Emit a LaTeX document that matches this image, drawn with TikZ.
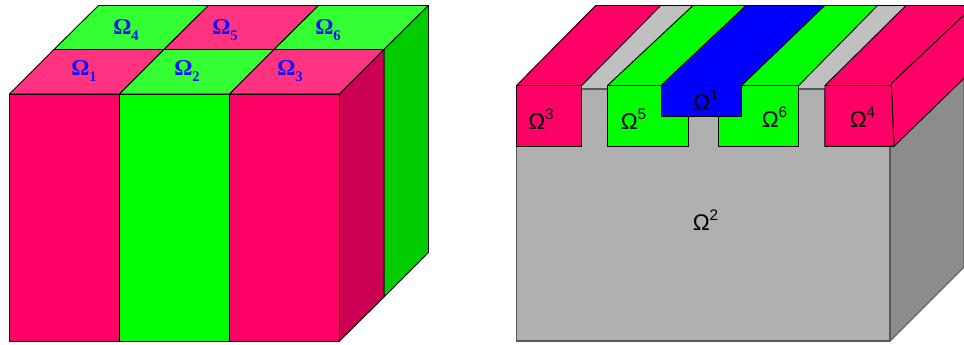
\documentclass[tikz,border=0pt]{standalone}
\usepackage{fontspec}
\setmainfont{Liberation Serif}
\setsansfont{Liberation Sans}
\definecolor{pinkF}{HTML}{FF0066}
\definecolor{pinkT}{HTML}{FF3380}
\definecolor{pinkS}{HTML}{CC0052}
\definecolor{greenF}{HTML}{00FF00}
\definecolor{greenT}{HTML}{33FF33}
\definecolor{greenS}{HTML}{00CC00}
\definecolor{grayF}{HTML}{B0B0B0}
\definecolor{grayT}{HTML}{C0C0C0}
\definecolor{grayS}{HTML}{8C8C8C}
\definecolor{blueL}{HTML}{1010FF}
\tikzset{
  x=0.75pt,y=-0.75pt,
  face/.style={draw=black,line width=0.7pt,line join=round},
  grayedge/.style={draw=black!65,line width=0.8pt,line join=round},
  toplabel/.style={text=blueL,font=\rmfamily\bfseries\fontsize{17}{17}\selectfont,inner sep=0pt},
  seclabel/.style={text=black,font=\sffamily\fontsize{17}{17}\selectfont,inner sep=0pt},
}
\newcommand{\OmS}[1]{Ω\raisebox{-0.28em}{\fontsize{11}{11}\selectfont #1}}
\newcommand{\OmP}[1]{Ω\raisebox{0.42em}{\fontsize{11.5}{11.5}\selectfont #1}}
\begin{document}
\begin{tikzpicture}
\useasboundingbox (0,0) rectangle (964,344);
\clip (0,0) rectangle (964,344);
% left block: top faces
\path[face,fill=greenT] (54,49.5) -- (98.5,5.5) -- (208.5,5.5) -- (164,49.5) -- cycle;
\path[face,fill=pinkT] (164,49.5) -- (208.5,5.5) -- (318.5,5.5) -- (274,49.5) -- cycle;
\path[face,fill=greenT] (274,49.5) -- (318.5,5.5) -- (428.5,5.5) -- (384,49.5) -- cycle;
\path[face,fill=pinkT] (9.5,94) -- (54,49.5) -- (164,49.5) -- (119.5,94) -- cycle;
\path[face,fill=greenT] (119.5,94) -- (164,49.5) -- (274,49.5) -- (229.5,94) -- cycle;
\path[face,fill=pinkT] (229.5,94) -- (274,49.5) -- (384,49.5) -- (339.5,94) -- cycle;
% left block: side faces
\path[face,fill=greenS] (384,49.5) -- (428.5,5.5) -- (428.5,252.5) -- (384,297) -- cycle;
\path[face,fill=pinkS] (339.5,94) -- (384,49.5) -- (384,297) -- (339.5,341) -- cycle;
% left block: front faces
\path[face,fill=pinkF] (9.5,94) rectangle (119.5,341);
\path[face,fill=greenF] (119.5,94) rectangle (229.5,341);
\path[face,fill=pinkF] (229.5,94) rectangle (339.5,341);
\node[toplabel,anchor=base west] (t4) at (113,34) {\OmS{4}};
\node[toplabel,anchor=base west] (t5) at (212,34) {\OmS{5}};
\node[toplabel,anchor=base west] (t6) at (315,34) {\OmS{6}};
\node[toplabel,anchor=base west] (t1) at (71,75) {\OmS{1}};
\node[toplabel,anchor=base west] (t2) at (174,75) {\OmS{2}};
\node[toplabel,anchor=base west] (t3) at (277,75) {\OmS{3}};
% right block: gray body
\path[fill=grayT] (581.7,85.5) -- (660.7,5.5) -- (906,5.5) -- (825,85.5) -- (825,89) -- (581.7,89) -- cycle;
\path[grayedge,fill=grayS] (890,146.3) -- (964,78) -- (964,267) -- (890,341) -- cycle;
\path[grayedge,fill=grayF] (516.5,146.3) -- (581.7,146.3) -- (581.7,89) -- (825,89) -- (825,146.3) -- (890,146.3) -- (890,341) -- (516.5,341) -- cycle;
% right block: pink stripe at left
\path[face,fill=pinkF] (516.5,85.5) -- (595.7,5.5) -- (660.7,5.5) -- (581.7,85.5) -- cycle;
\path[face,fill=pinkF] (516.5,85.5) rectangle (581.7,146.3);
% right block: green U section
\path[face,fill=greenF] (607.5,85.5) -- (693,5.5) -- (877.5,5.5) -- (798.7,85.5) -- cycle;
\path[face,fill=greenF] (607.5,85.5) -- (798.7,85.5) -- (798.7,146.3) -- (718.5,146.3) -- (718.5,116) -- (688,116) -- (688,146.3) -- (607.5,146.3) -- cycle;
% right block: blue section
\path[face,fill=blue] (661,85.5) -- (746,5.5) -- (824.7,5.5) -- (741.5,85.5) -- cycle;
\path[face,fill=blue] (661,85.5) rectangle (741.5,116);
% right block: pink stripe at right
\path[face,fill=pinkF] (825,85.5) -- (906,5.5) -- (970,5.5) -- (970,9.4) -- (891.3,83.5) -- (891.3,85.5) -- cycle;
\path[face,fill=pinkF] (891.3,83.5) -- (970,9.4) -- (970,72.5) -- (894,146.3) -- cycle;
\path[face,fill=pinkF] (825,85.5) -- (891.3,85.5) -- (894,146.3) -- (825,146.3) -- cycle;
\draw[black,line width=0.7pt] (595.7,5.5) -- (964,5.5);
\node[seclabel,anchor=base west] (s3) at (528,129) {\OmP{3}};
\node[seclabel,anchor=base west] (s5) at (620.5,129) {\OmP{5}};
\node[seclabel,anchor=base west] (s1) at (693,110) {\OmP{1}};
\node[seclabel,anchor=base west] (s6) at (761.5,127) {\OmP{6}};
\node[seclabel,anchor=base west] (s4) at (849.5,127) {\OmP{4}};
\node[seclabel,anchor=base west] (s2) at (692.5,230) {\OmP{2}};
\end{tikzpicture}
\end{document}
